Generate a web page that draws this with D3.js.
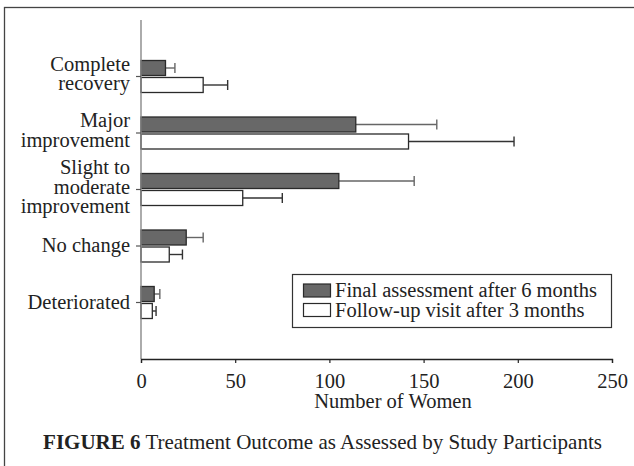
<!DOCTYPE html>
<html>
<head>
<meta charset="utf-8">
<script src="https://cdn.jsdelivr.net/npm/d3@7/dist/d3.min.js"></script>
<style>
  html, body { margin: 0; padding: 0; background: #fff; }
  svg { display: block; }
  text { font-family: "Liberation Serif", "Times New Roman", serif; fill: #222; }
</style>
</head>
<body>
<svg id="chart" width="634" height="466"></svg>
<script>
// Outcome categories, top to bottom, with their wrapped label lines
const categories = ["Complete recovery", "Major improvement", "Slight to moderate improvement", "No change", "Deteriorated"];
const categoryLines = [["Complete", "recovery"], ["Major", "improvement"], ["Slight to", "moderate", "improvement"], ["No change"], ["Deteriorated"]];

// Number of women per outcome, with error (upper whisker length)
const finalSixMonths = [13, 114, 105, 24, 7];
const finalSixMonthsErr = [5, 43, 40, 9, 3];
const followUpThreeMonths = [33, 142, 54, 15, 6];
const followUpThreeMonthsErr = [13, 56, 21, 7, 2];

const seriesNames = ["Final assessment after 6 months", "Follow-up visit after 3 months"];
const xTicks = [0, 50, 100, 150, 200, 250];
const xTitle = "Number of Women";

const svg = d3.select("#chart");
const W = 634, H = 466;
const fs = 20.5;

// outer frame (open at right and bottom edges of the page)
svg.append("rect")
  .attr("x", 4.5).attr("y", 7.5)
  .attr("width", W + 10).attr("height", H + 10)
  .attr("fill", "none").attr("stroke", "#444").attr("stroke-width", 1.3);

const x = d3.scaleLinear().domain([0, 250]).range([141, 612]);
const y = d3.scalePoint().domain(categories).range([20, 359]).padding(1);

const barH = 15;
const series = [
  { name: seriesNames[0], values: finalSixMonths, err: finalSixMonthsErr, fill: "#686868", errColor: "#666", off: -16 },
  { name: seriesNames[1], values: followUpThreeMonths, err: followUpThreeMonthsErr, fill: "#ffffff", errColor: "#333", off: 1 }
];

// error bars (drawn first so the bar outline sits on top)
series.forEach(s => {
  const g = svg.append("g");
  categories.forEach((c, i) => {
    const cy = y(c) + s.off + barH / 2;
    const x0 = x(s.values[i]);
    const x1 = x(s.values[i] + s.err[i]);
    g.append("line").attr("x1", x0).attr("x2", x1).attr("y1", cy).attr("y2", cy)
      .attr("stroke", s.errColor).attr("stroke-width", 1.4);
    g.append("line").attr("x1", x1).attr("x2", x1).attr("y1", cy - 5).attr("y2", cy + 5)
      .attr("stroke", s.errColor).attr("stroke-width", 1.4);
  });
});

// bars
series.forEach(s => {
  svg.append("g").selectAll("rect")
    .data(categories)
    .join("rect")
    .attr("x", x(0))
    .attr("y", c => y(c) + s.off)
    .attr("width", (c, i) => x(s.values[i]) - x(0))
    .attr("height", barH)
    .attr("fill", s.fill)
    .attr("stroke", "#2a2a2a")
    .attr("stroke-width", 1.3);
});

// y axis: vertical line and small ticks on the left
svg.append("line").attr("x1", x(0)).attr("x2", x(0)).attr("y1", 20).attr("y2", 359)
  .attr("stroke", "#888").attr("stroke-width", 1.4);
categories.forEach(c => {
  svg.append("line").attr("x1", x(0) - 5).attr("x2", x(0)).attr("y1", y(c)).attr("y2", y(c))
    .attr("stroke", "#555").attr("stroke-width", 1.2);
});

// category labels
const lineGap = 19.5;
categories.forEach((c, i) => {
  const lines = categoryLines[i];
  const base = y(c) + (lines.length === 1 ? 6 : 4);
  const t = svg.append("text")
    .attr("text-anchor", "end")
    .attr("font-size", fs);
  lines.forEach((ln, k) => {
    t.append("tspan")
      .attr("x", 130)
      .attr("y", base + (k - (lines.length - 1) / 2) * lineGap)
      .text(ln);
  });
});

// x axis
const xAxis = svg.append("g")
  .attr("transform", "translate(0,359)")
  .call(d3.axisBottom(x).tickValues(xTicks).tickSize(4).tickPadding(10).tickFormat(d3.format("d")));
xAxis.select(".domain").attr("stroke", "#222").attr("stroke-width", 1.3);
xAxis.selectAll(".tick line").attr("stroke", "#222").attr("stroke-width", 1.2);
xAxis.selectAll(".tick text")
  .attr("font-family", "Liberation Serif, serif")
  .attr("font-size", fs)
  .attr("fill", "#222");

svg.append("text")
  .attr("x", 393).attr("y", 408)
  .attr("text-anchor", "middle")
  .attr("font-size", fs)
  .text(xTitle);

// legend
const lg = svg.append("g");
lg.append("rect").attr("x", 292.5).attr("y", 274.5).attr("width", 319).attr("height", 53)
  .attr("fill", "#fff").attr("stroke", "#333").attr("stroke-width", 1.2);
series.forEach((s, i) => {
  lg.append("rect")
    .attr("x", 303.5).attr("y", 284 + i * 19.5)
    .attr("width", 27).attr("height", 13)
    .attr("fill", s.fill).attr("stroke", "#2a2a2a").attr("stroke-width", 1.2);
  lg.append("text")
    .attr("x", 335).attr("y", 297 + i * 20)
    .attr("font-size", fs)
    .text(s.name);
});

// caption
const cap = svg.append("text")
  .attr("x", 322.5).attr("y", 449)
  .attr("text-anchor", "middle")
  .attr("font-size", 21);
cap.append("tspan").attr("font-weight", "bold").text("FIGURE 6");
cap.append("tspan").text(" Treatment Outcome as Assessed by Study Participants");
</script>
</body>
</html>
